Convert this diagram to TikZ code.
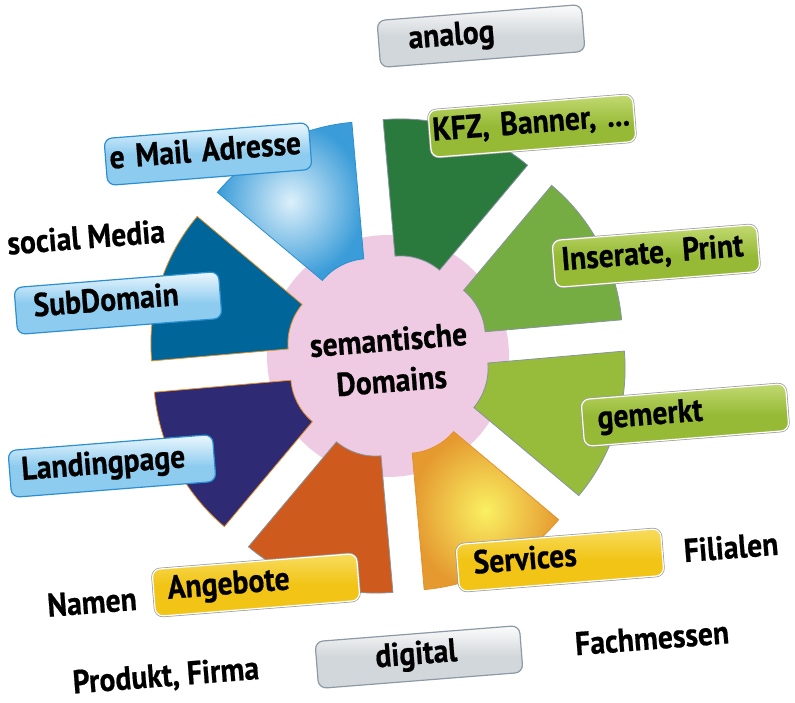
\documentclass[tikz,border=0pt]{standalone}
\usepackage{fontspec}
\setmainfont{PT Sans}[FakeStretch=0.9,BoldFeatures={FakeBold=0.6}]
\usepackage{xcolor}

\definecolor{rose}{HTML}{EECBE2}
\definecolor{vertfonce}{HTML}{2A7A3E}
\definecolor{vertmoyen}{HTML}{76AD42}
\definecolor{vertclair}{HTML}{97BC3B}
\definecolor{rouille}{HTML}{CE5A1E}
\definecolor{indigo}{HTML}{2F2A74}
\definecolor{petrole}{HTML}{006699}
\definecolor{ciel}{HTML}{3A9CD8}
\definecolor{cielclair}{HTML}{DDF0FB}
\definecolor{jaune}{HTML}{FAF062}
\definecolor{orangefonce}{HTML}{E59A30}
\definecolor{grisbord}{HTML}{8893A0}
\definecolor{orangebord}{HTML}{E4912C}
\definecolor{bleubord}{HTML}{2B8FD0}
\definecolor{tagbleuH}{HTML}{EEF8FE}
\definecolor{tagbleuB}{HTML}{8ECCEF}
\definecolor{taggrisH}{HTML}{FCFCFC}
\definecolor{taggrisB}{HTML}{D2D7DB}
\definecolor{taggrisbord}{HTML}{8D99A4}
\definecolor{tagvertH}{HTML}{C2DA72}
\definecolor{tagvertB}{HTML}{96BA35}
\definecolor{tagorH}{HTML}{F8DC5E}
\definecolor{tagorB}{HTML}{F1C415}

\begin{document}
\begin{tikzpicture}[x=1pt,y=1pt,
	secteur/.style={line width=0.8pt},
	sInserate/.style={fill=vertmoyen,draw=grisbord},
	sKfz/.style={fill=vertfonce,draw=grisbord},
	sMail/.style={inner color=cielclair,outer color=ciel,draw=bleubord},
	sSub/.style={fill=petrole,draw=orangebord},
	sLanding/.style={fill=indigo,draw=orangebord},
	sAngebote/.style={fill=rouille,draw=grisbord},
	sServices/.style={inner color=jaune,outer color=orangefonce,draw=orangebord},
	sGemerkt/.style={fill=vertclair,draw=grisbord},
	etiq/.style={font=\bfseries\fontsize{33}{41}\selectfont,rotate=4.5},
	boite/.style={etiq,rounded corners=8pt,minimum height=47pt,inner ysep=0pt,
		text height=21pt,text depth=7pt,align=left},
	tagbleu/.style={boite,top color=tagbleuH,bottom color=tagbleuB,middle color=tagbleuB,
		draw=bleubord,line width=1.2pt},
	taggris/.style={boite,top color=taggrisH,bottom color=taggrisB,middle color=taggrisB,
		draw=taggrisbord,line width=1.2pt},
	tagvert/.style={boite,top color=tagvertH,bottom color=tagvertB,middle color=tagvertB,
		preaction={draw=gray!80,line width=2.6pt},draw=white,line width=1.2pt},
	tagor/.style={boite,top color=tagorH,bottom color=tagorB,middle color=tagorB,
		preaction={draw=gray!80,line width=2.6pt},draw=white,line width=1.2pt}]
	\useasboundingbox (0,0) rectangle (795,702);

	\begin{scope}[shift={(388,346)}]
		\fill[rose] (0,0) circle (121pt); % le disque central
		\foreach \a/\st in {27.5/sInserate,72.5/sKfz,117.5/sMail,162.5/sSub,207.5/sLanding,252.5/sAngebote,297.5/sServices,342.5/sGemerkt}
			\path[secteur,\st,shift={(\a:41pt)}] (\a-22.5:61pt) -- (\a-22.5:198pt)
				arc[start angle=\a-22.5,end angle=\a+22.5,radius=198pt] -- (\a+22.5:61pt)
				arc[start angle=\a+22.5,end angle=\a-22.5,radius=61pt] -- cycle;
	\end{scope}

	\node[etiq,align=center] (zentrum) at (390,342) {semantische\\Domains};

	% les etiquettes
	\node[taggris,inner xsep=30pt,text width=145pt] (analog) at (481,666) {analog};
	\node[tagvert,inner xsep=3pt,text width=199pt] (kfz) at (532,576) {\mbox{KFZ, Banner, ...}};
	\node[tagbleu,inner xsep=4pt,text width=197pt] (mail) at (208,548) {\mbox{e Mail Adresse}};
	\node[tagbleu,inner xsep=18pt,text width=169pt] (sub) at (118,399) {SubDomain};
	\node[tagbleu,inner xsep=12pt,text width=181pt] (landing) at (112,236) {Landingpage};
	\node[tagor,inner xsep=14pt,text width=177pt] (angebote) at (256,117) {Angebote};
	\node[taggris,inner xsep=59pt,text width=87pt] (digital) at (419,45) {digital};
	\node[tagor,inner xsep=16pt,text width=173pt] (services) at (560,142) {Services};
	\node[tagvert,inner xsep=8pt,text width=189pt] (inserate) at (656,446) {\mbox{Inserate, Print}};
	\node[tagvert,inner xsep=15pt,text width=175pt] (gemerkt) at (685,287) {gemerkt};

	% textes libres
	\node[etiq] (social) at (86,465) {social Media};
	\node[etiq] (namen) at (92,100) {Namen};
	\node[etiq] (produkt) at (166,25) {Produkt, Firma};
	\node[etiq] (filialen) at (731,155) {Filialen};
	\node[etiq] (messen) at (652,64) {Fachmessen};
\end{tikzpicture}
\end{document}
